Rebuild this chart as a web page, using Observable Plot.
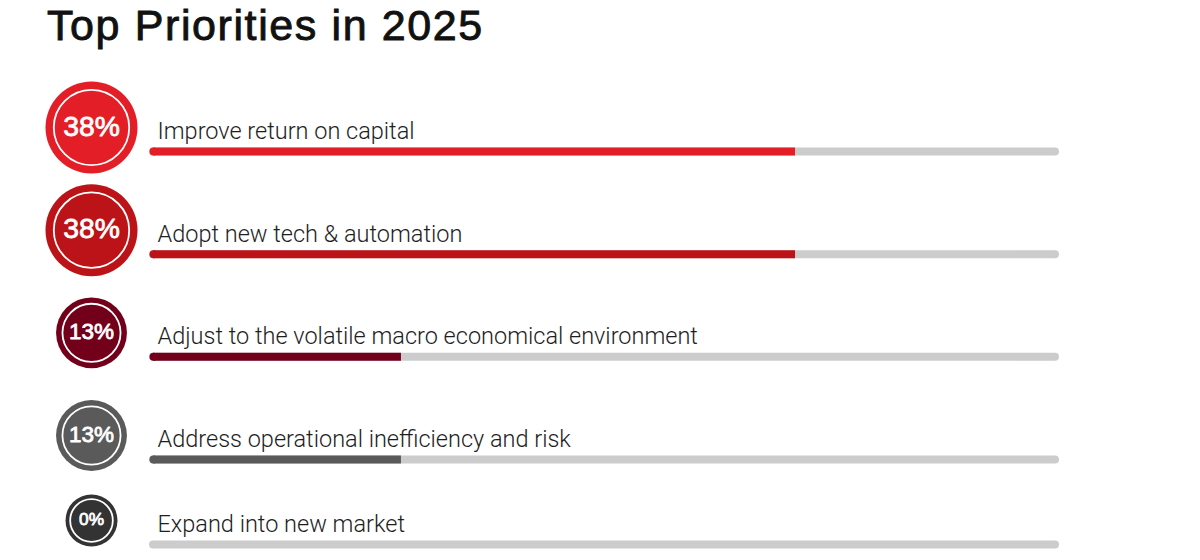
<!DOCTYPE html>
<html>
<head>
<meta charset="utf-8">
<script src="https://cdn.jsdelivr.net/npm/d3@7"></script>
<script src="https://cdn.jsdelivr.net/npm/@observablehq/plot@0.6"></script>
<style>
  html, body { margin: 0; padding: 0; background: #ffffff; }
  #title {
    height: 50px; line-height: 50px; padding-left: 47px;
    font-family: "Liberation Sans", Arial, sans-serif; font-weight: normal; font-size: 43px;
    letter-spacing: 1.6px; -webkit-text-stroke: 0.9px #111111;
    color: #111111; white-space: nowrap; overflow: hidden;
  }
  #chart svg { display: block; }
</style>
</head>
<body>
<div id="title">Top Priorities in 2025</div>
<div id="chart"></div>
<script>
// ---- data ----
const categories = [
  "Improve return on capital",
  "Adopt new tech & automation",
  "Adjust to the volatile macro economical environment",
  "Address operational inefficiency and risk",
  "Expand into new market"
];
const shares = [38, 38, 13, 13, 0];

// ---- styles ----
const palette = ["#e31e26", "#bb1317", "#72001a", "#5a5a5a", "#333333"];
const xMax = 55.75;

const rows = categories.map((c, i) => ({category: c, share: shares[i], rank: i}));
const filled = rows.filter(d => d.share > 0);

const rs = Plot.scale({r: {type: "pow", exponent: 0.7, domain: [0, 38], range: [26, 46]}});
const rad = d => rs.apply(d.share);

const chart = Plot.plot({
  width: 1200,
  height: 510,
  margin: 0,
  x: {type: "pow", exponent: 0.887, domain: [0, xMax], range: [153, 1055], axis: null},
  y: {type: "linear", domain: [0, 3, 4], range: [101, 409, 494], axis: null},
  r: {type: "identity"},
  color: {type: "ordinal", domain: categories, range: palette},
  marks: [
    // track
    Plot.ruleY(rows, {y: "rank", x1: () => 0, x2: () => xMax, stroke: "#cccccc", strokeWidth: 8, strokeLinecap: "round"}),
    // fill
    Plot.ruleY(filled, {y: "rank", x1: () => 0, x2: "share", stroke: "category", strokeWidth: 8, strokeLinecap: "butt"}),
    Plot.dot(filled, {x: () => 0, y: "rank", r: () => 4, fill: "category"}),
    // labels
    Plot.text(rows, {
      x: () => 0, y: "rank", text: "category", textAnchor: "start", dx: 4, dy: -20,
      fontSize: 23.5, fill: "#1e1e1e", fontWeight: 300, fontFamily: "Roboto, Liberation Sans, Arial, sans-serif"
    }),
    // circles
    Plot.dot(rows, {x: () => 0, y: "rank", dx: -62, dy: -24, r: rad, fill: "category"}),
    Plot.dot(rows, {x: () => 0, y: "rank", dx: -62, dy: -24, r: d => rad(d) * 0.82, fill: "none", stroke: "white", strokeWidth: 1.8}),
    Plot.text(rows, {
      x: () => 0, y: "rank", dx: -62, dy: -25, text: d => d.share + "%",
      fill: "white", stroke: "white", strokeWidth: 0.8, fontFamily: "Liberation Sans, Arial, sans-serif",
      fontSize: d => rad(d) * 0.55 + 3
    })
  ]
});
document.getElementById("chart").appendChild(chart);
</script>
</body>
</html>
